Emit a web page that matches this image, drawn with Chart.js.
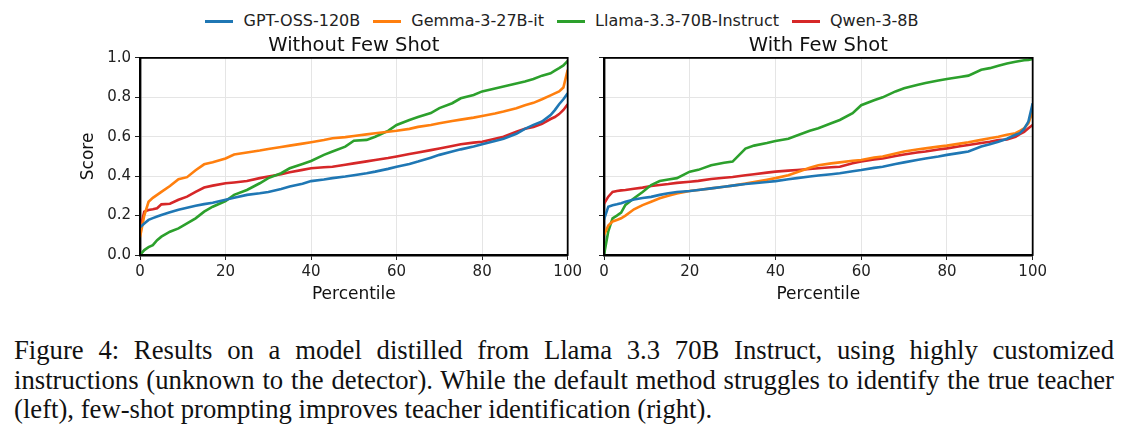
<!DOCTYPE html>
<html>
<head>
<meta charset="utf-8">
<script src="https://cdn.jsdelivr.net/npm/chart.js@4.4.1/dist/chart.umd.min.js"></script>
<style>
  html, body { margin: 0; padding: 0; background: #fff; width: 1130px; height: 435px; overflow: hidden; }
  #legend { position: absolute; top: 11px; left: 0; width: 1124px; display: flex; justify-content: center; gap: 13px;
    font-family: 'DejaVu Sans', sans-serif; font-size: 16px; line-height: 20px; color: #222; }
  .item { display: flex; align-items: center; gap: 10px; }
  .swatch { width: 28px; height: 3px; display: inline-block; }
  .wrap { position: absolute; }
  #caption { position: absolute; left: 14px; top: 336px; width: 1100px; font-family: 'Liberation Serif', 'Times New Roman', serif;
    font-size: 26.7px; line-height: 29.5px; color: #111; }
  #caption .j { text-align: justify; text-align-last: justify; white-space: nowrap; }
  #caption .l { text-align: left; white-space: nowrap; }
</style>
</head>
<body>
<div id="legend"></div>
<div class="wrap" style="left:60px; top:28px; width:525px; height:285px;"><canvas id="c1"></canvas></div>
<div class="wrap" style="left:580px; top:28px; width:470px; height:285px;"><canvas id="c2"></canvas></div>
<div id="caption">
  <div class="j">Figure 4: Results on a model distilled from Llama 3.3 70B Instruct, using highly customized</div>
  <div class="j">instructions (unknown to the detector). While the default method struggles to identify the true teacher</div>
  <div class="l">(left), few-shot prompting improves teacher identification (right).</div>
</div>
<script>
// ---- data ----
const seriesNames = ['GPT-OSS-120B', 'Gemma-3-27B-it', 'Llama-3.3-70B-Instruct', 'Qwen-3-8B'];
const seriesColors = ['#1f77b4', '#ff7f0e', '#2ca02c', '#d62728'];
const panelTitles = ['Without Few Shot', 'With Few Shot'];
const percentiles = [0,1,2,3,4,5,7,9,11,13,15,17,20,22,25,28,30,33,35,38,40,43,45,48,50,53,55,58,60,63,65,68,70,73,75,78,80,83,85,88,90,92,94,96,97,98,99,100];
const yTicks = [0, 0.2, 0.4, 0.6, 0.8, 1.0];
const xTicks = [0, 20, 40, 60, 80, 100];

// Without Few Shot
const gptNoFS   = [0.14,0.16,0.178,0.187,0.195,0.203,0.217,0.23,0.24,0.25,0.258,0.265,0.28,0.29,0.305,0.313,0.32,0.335,0.347,0.362,0.375,0.383,0.39,0.398,0.405,0.415,0.423,0.437,0.448,0.462,0.474,0.494,0.508,0.525,0.536,0.55,0.562,0.578,0.59,0.615,0.64,0.66,0.677,0.71,0.735,0.765,0.79,0.82];
const gemmaNoFS = [0.09,0.2,0.27,0.29,0.305,0.32,0.35,0.385,0.395,0.43,0.46,0.47,0.49,0.51,0.52,0.53,0.538,0.548,0.555,0.565,0.572,0.583,0.592,0.598,0.604,0.612,0.618,0.625,0.63,0.64,0.65,0.66,0.668,0.68,0.687,0.697,0.705,0.718,0.728,0.745,0.76,0.772,0.79,0.81,0.82,0.83,0.85,0.94];
const llamaNoFS = [0.0,0.025,0.04,0.05,0.075,0.093,0.118,0.135,0.16,0.186,0.22,0.245,0.274,0.305,0.33,0.364,0.39,0.415,0.44,0.462,0.477,0.508,0.525,0.55,0.58,0.584,0.6,0.63,0.66,0.685,0.7,0.72,0.745,0.77,0.795,0.812,0.83,0.845,0.855,0.87,0.88,0.893,0.91,0.922,0.935,0.948,0.962,0.985];
const qwenNoFS  = [0.13,0.22,0.228,0.232,0.237,0.257,0.26,0.28,0.296,0.32,0.342,0.352,0.364,0.368,0.375,0.39,0.398,0.41,0.42,0.432,0.44,0.445,0.448,0.458,0.465,0.475,0.482,0.492,0.5,0.512,0.52,0.532,0.54,0.553,0.562,0.57,0.575,0.59,0.6,0.626,0.64,0.65,0.665,0.69,0.70,0.715,0.736,0.765];

// With Few Shot
const gptFS   = [0.18,0.245,0.252,0.257,0.263,0.27,0.282,0.289,0.295,0.305,0.313,0.32,0.325,0.33,0.338,0.346,0.352,0.36,0.364,0.37,0.375,0.384,0.39,0.398,0.403,0.41,0.415,0.425,0.431,0.442,0.448,0.462,0.47,0.482,0.49,0.5,0.508,0.518,0.525,0.55,0.562,0.575,0.59,0.61,0.618,0.64,0.677,0.77];
const gemmaFS = [0.1,0.15,0.17,0.178,0.186,0.2,0.232,0.253,0.27,0.288,0.3,0.312,0.325,0.33,0.338,0.346,0.352,0.362,0.37,0.382,0.39,0.405,0.42,0.443,0.455,0.465,0.47,0.478,0.482,0.495,0.5,0.515,0.525,0.535,0.541,0.55,0.555,0.565,0.572,0.584,0.592,0.6,0.61,0.618,0.63,0.643,0.668,0.73];
const llamaFS = [0.0,0.12,0.186,0.2,0.215,0.254,0.288,0.32,0.355,0.375,0.383,0.39,0.423,0.432,0.455,0.468,0.474,0.54,0.555,0.568,0.578,0.59,0.606,0.63,0.643,0.668,0.685,0.72,0.76,0.785,0.8,0.83,0.846,0.863,0.873,0.885,0.893,0.903,0.91,0.94,0.948,0.96,0.972,0.98,0.984,0.988,0.99,0.995];
const qwenFS  = [0.26,0.296,0.32,0.325,0.328,0.33,0.336,0.342,0.35,0.355,0.36,0.366,0.372,0.376,0.386,0.392,0.396,0.405,0.41,0.418,0.423,0.428,0.431,0.436,0.44,0.445,0.448,0.465,0.474,0.485,0.49,0.502,0.51,0.52,0.525,0.535,0.541,0.552,0.558,0.568,0.575,0.583,0.586,0.6,0.613,0.625,0.643,0.66];

const panels = [[gptNoFS, gemmaNoFS, llamaNoFS, qwenNoFS], [gptFS, gemmaFS, llamaFS, qwenFS]];

// ---- legend ----
const leg = document.getElementById('legend');
seriesNames.forEach((n, i) => {
  const d = document.createElement('div'); d.className = 'item';
  d.innerHTML = '<span class="swatch" style="background:' + seriesColors[i] + '"></span><span>' + n + '</span>';
  leg.appendChild(d);
});

const FONT = "'DejaVu Sans', sans-serif";
Chart.defaults.font.family = FONT;
Chart.defaults.color = '#222';

const boxPlugin = {
  id: 'box',
  afterDatasetsDraw(chart) {
    const a = chart.chartArea, ctx = chart.ctx;
    ctx.save();
    ctx.strokeStyle = '#000';
    ctx.lineWidth = 1.8;
    ctx.strokeRect(a.left, a.top, a.right - a.left, a.bottom - a.top);
    ctx.restore();
  }
};

function makeChart(id, p, showY, yWidth, padRight) {
  const vals = panels[p];
  return new Chart(document.getElementById(id), {
    type: 'line',
    data: {
      datasets: vals.map((v, i) => ({
        label: seriesNames[i],
        data: percentiles.map((x, k) => ({ x: x, y: v[k] })),
        borderColor: seriesColors[i],
        backgroundColor: seriesColors[i],
        borderWidth: 2.6,
        pointRadius: 0,
        tension: 0,
        fill: false
      }))
    },
    options: {
      responsive: true,
      maintainAspectRatio: false,
      animation: false,
      layout: { padding: { left: 0, right: padRight, top: 0, bottom: 0 } },
      plugins: {
        legend: { display: false },
        tooltip: { enabled: false },
        title: { display: true, fullSize: false, text: panelTitles[p], font: { size: 19.5, weight: 'normal' }, color: '#111', padding: { top: 6, bottom: 0.5 } }
      },
      scales: {
        x: {
          type: 'linear', min: 0, max: 100,
          afterBuildTicks(s) { s.ticks = xTicks.map(v => ({ value: v })); },
          ticks: { font: { size: 15 }, color: '#222', padding: 3, maxRotation: 0 },
          grid: { color: '#e5e5e5', lineWidth: 1, tickColor: '#222', tickLength: 5, tickWidth: 1 },
          border: { display: true, color: '#000', width: 2.4 },
          title: { display: true, text: 'Percentile', font: { size: 17 }, color: '#111', padding: { top: 0, bottom: 8 } },
          afterFit(s) { s.height = 58; }
        },
        y: {
          type: 'linear', min: 0, max: 1,
          afterBuildTicks(s) { s.ticks = yTicks.map(v => ({ value: v })); },
          ticks: { display: showY, font: { size: 15 }, color: '#222', padding: 4, callback: v => Number(v).toFixed(1) },
          grid: { color: '#e5e5e5', lineWidth: 1, tickColor: '#222', tickLength: 5, tickWidth: 1 },
          border: { display: true, color: '#000', width: 2.4 },
          title: { display: showY, text: 'Score', font: { size: 17 }, color: '#111', padding: { top: 18, bottom: 0 } },
          afterFit(s) { s.width = yWidth; }
        }
      }
    },
    plugins: [boxPlugin]
  });
}

makeChart('c1', 0, true, 80, 16);
makeChart('c2', 1, false, 24, 17);
</script>
</body>
</html>
